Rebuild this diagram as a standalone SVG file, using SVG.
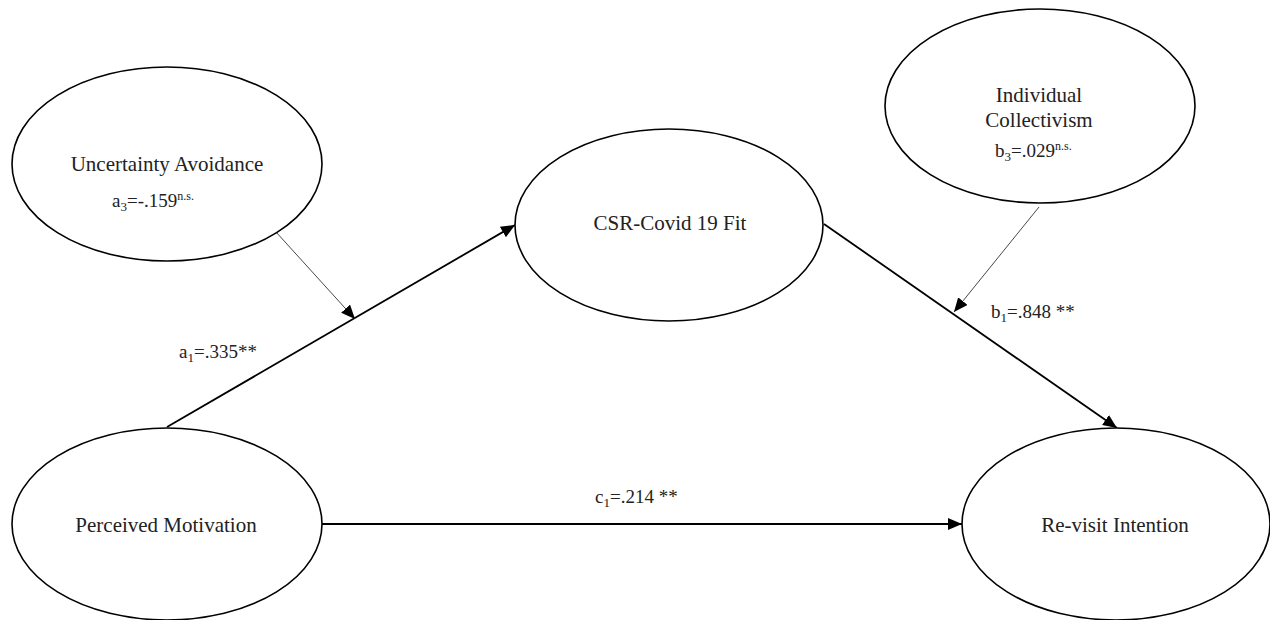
<svg xmlns="http://www.w3.org/2000/svg" width="1270" height="620" viewBox="0 0 1270 620">
<style>
.node ellipse{fill:#fff;stroke:#000;stroke-width:1.6}
text{font-family:"Liberation Serif","Times New Roman",serif;font-size:21px;fill:#222}
.lbl{font-size:19px}
.main{stroke:#000;stroke-width:1.8;fill:none}
.mod{stroke:#333;stroke-width:0.9;fill:none}
</style>
<defs>
<marker id="ah" markerUnits="userSpaceOnUse" markerWidth="14" markerHeight="12" viewBox="0 0 14 12" refX="14" refY="6" orient="auto">
<path d="M0,0 L14,6 L0,12 Z" fill="#000"/>
</marker>
</defs>
<g id="connectors">
<line class="main" x1="167" y1="427" x2="515" y2="225" marker-end="url(#ah)"/>
<line class="main" x1="824" y1="224" x2="1117" y2="428" marker-end="url(#ah)"/>
<line class="main" x1="322" y1="524" x2="962" y2="524" marker-end="url(#ah)"/>
<line class="mod" x1="276" y1="232" x2="355" y2="319" marker-end="url(#ah)"/>
<line class="mod" x1="1039" y1="207" x2="954" y2="312" marker-end="url(#ah)"/>
<text class="lbl" x="179" y="358">a<tspan font-size="13" dy="4">1</tspan><tspan dy="-4">=.335**</tspan></text>
<text class="lbl" x="991" y="318">b<tspan font-size="13" dy="4">1</tspan><tspan dy="-4">=.848 **</tspan></text>
<text class="lbl" x="595" y="503">c<tspan font-size="13" dy="4">1</tspan><tspan dy="-4">=.214 **</tspan></text>
</g>
<g id="uncertainty" class="node">
<ellipse cx="167" cy="164" rx="155" ry="97"/>
<text x="167" y="171" text-anchor="middle">Uncertainty Avoidance</text>
<text class="lbl" x="112" y="207">a<tspan font-size="13" dy="4">3</tspan><tspan dy="-4">=-.159</tspan><tspan font-size="12" dy="-7">n.s.</tspan></text>
</g>
<g id="collectivism" class="node">
<ellipse cx="1040" cy="106" rx="155" ry="97"/>
<text x="1039" y="102" text-anchor="middle">Individual</text>
<text x="1039" y="127" text-anchor="middle">Collectivism</text>
<text class="lbl" x="995" y="157">b<tspan font-size="13" dy="4">3</tspan><tspan dy="-4">=.029</tspan><tspan font-size="12" dy="-7">n.s.</tspan></text>
</g>
<g id="csr" class="node">
<ellipse cx="669" cy="225" rx="154" ry="96"/>
<text x="670" y="230" text-anchor="middle">CSR-Covid 19 Fit</text>
</g>
<g id="motivation" class="node">
<ellipse cx="167" cy="524" rx="155" ry="96"/>
<text x="166" y="532" text-anchor="middle">Perceived Motivation</text>
</g>
<g id="revisit" class="node">
<ellipse cx="1116" cy="524" rx="154" ry="96"/>
<text x="1115" y="532" text-anchor="middle">Re-visit Intention</text>
</g>
</svg>
